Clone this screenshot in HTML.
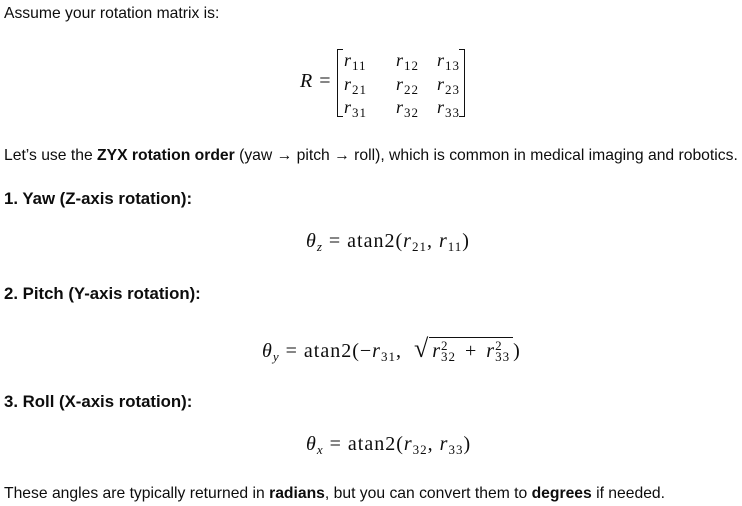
<!DOCTYPE html>
<html><head><meta charset="utf-8"><style>
body{margin:0;width:742px;height:506px;background:#fff;position:relative;overflow:hidden;font-family:"Liberation Sans",sans-serif;color:#0d0d0d}
.t{position:absolute;left:4px;font-size:15.7px;white-space:nowrap}
.h{position:absolute;left:4px;font-size:16.8px;font-weight:bold;white-space:nowrap}
.m{position:absolute;font-family:"Liberation Serif",serif;font-size:20px;white-space:nowrap;letter-spacing:1px}
.m span.op{margin:0 6px}
i{font-style:italic}
sub,sup{font-size:13px}
sub{vertical-align:-4px}
</style></head><body>
<div class="t" style="top:5px">Assume your rotation matrix is:</div>

<div class="m" style="left:300px;top:70px"><i>R</i> =</div>
<div style="position:absolute;left:337px;top:49px;width:5px;height:66px;border:1.3px solid #111;border-right:none"></div>
<div style="position:absolute;left:459px;top:49px;width:5px;height:66px;border:1.3px solid #111;border-left:none"></div>
<div class="m" style="left:344px;top:50px;font-size:18px"><i>r</i><sub>11</sub></div>
<div class="m" style="left:396px;top:50px;font-size:18px"><i>r</i><sub>12</sub></div>
<div class="m" style="left:437px;top:50px;font-size:18px"><i>r</i><sub>13</sub></div>
<div class="m" style="left:344px;top:74px;font-size:18px"><i>r</i><sub>21</sub></div>
<div class="m" style="left:396px;top:74px;font-size:18px"><i>r</i><sub>22</sub></div>
<div class="m" style="left:437px;top:74px;font-size:18px"><i>r</i><sub>23</sub></div>
<div class="m" style="left:344px;top:97px;font-size:18px"><i>r</i><sub>31</sub></div>
<div class="m" style="left:396px;top:97px;font-size:18px"><i>r</i><sub>32</sub></div>
<div class="m" style="left:437px;top:97px;font-size:18px"><i>r</i><sub>33</sub></div>

<div class="t" style="top:147px">Let’s use the <b>ZYX rotation order</b> (yaw → pitch → roll), which is common in medical imaging and robotics.</div>

<div class="h" style="top:189px">1. Yaw (Z-axis rotation):</div>
<div class="m" style="left:306px;top:230px"><i>θ</i><sub><i>z</i></sub><span class="op">=</span>atan2(<i>r</i><sub>21</sub>,&nbsp;<i>r</i><sub>11</sub>)</div>

<div class="h" style="top:284px">2. Pitch (Y-axis rotation):</div>
<div class="m" style="left:262px;top:334px"><i>θ</i><sub><i>y</i></sub><span class="op">=</span>atan2(−<i>r</i><sub>31</sub>,&nbsp;&nbsp;<span style="font-size:26px">√</span><span style="border-top:1.3px solid #111;padding:2px 3px 0 3px"><i>r</i><span style="display:inline-block;font-size:13px;line-height:11px;vertical-align:-4px">2<br>32</span><span class="op" style="margin:0 9px">+</span><i>r</i><span style="display:inline-block;font-size:13px;line-height:11px;vertical-align:-4px">2<br>33</span></span>)</div>

<div class="h" style="top:392px">3. Roll (X-axis rotation):</div>
<div class="m" style="left:306px;top:433px"><i>θ</i><sub><i>x</i></sub><span class="op">=</span>atan2(<i>r</i><sub>32</sub>,&nbsp;<i>r</i><sub>33</sub>)</div>

<div class="t" style="top:485px">These angles are typically returned in <b>radians</b>, but you can convert them to <b>degrees</b> if needed.</div>
</body></html>
